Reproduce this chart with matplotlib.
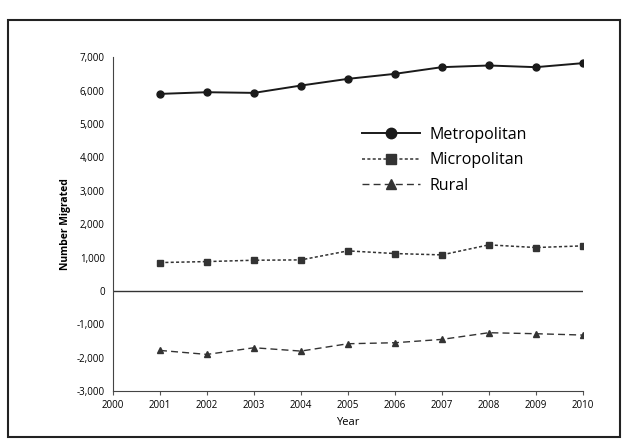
import matplotlib.pyplot as plt
from matplotlib.patches import Rectangle
from matplotlib.ticker import FuncFormatter

# data
years = [2001, 2002, 2003, 2004, 2005, 2006, 2007, 2008, 2009, 2010]
metropolitan = [5900, 5950, 5930, 6150, 6350, 6500, 6700, 6750, 6700, 6820]
micropolitan = [850, 880, 920, 930, 1200, 1120, 1080, 1380, 1300, 1350]
rural = [-1780, -1900, -1700, -1800, -1580, -1550, -1450, -1250, -1280, -1320]

plt.rcParams['font.family'] = ['Open Sans', 'DejaVu Sans']

fig = plt.figure(figsize=(6.28, 4.43), dpi=100)
ax = fig.add_axes([0.18, 0.117, 0.748, 0.754])

# outer frame of the chart
fig.patches.append(Rectangle((0.013, 0.014), 0.975, 0.94, transform=fig.transFigure,
                             fill=False, edgecolor='#222222', linewidth=1.5))

ax.plot(years, metropolitan, color='#1a1a1a', linestyle='-', linewidth=1.4,
        marker='o', markersize=5, label='Metropolitan')
ax.plot(years, micropolitan, color='#333333', linestyle=(0, (2, 1.5)), linewidth=1.1,
        marker='s', markersize=5, label='Micropolitan')
ax.plot(years, rural, color='#333333', linestyle=(0, (5, 3)), linewidth=1.0,
        marker='^', markersize=5, label='Rural')

ax.axhline(0, color='#333333', linewidth=1.0)

ax.set_xlim(2000, 2010)
ax.set_ylim(-3000, 7000)
ax.set_xticks(range(2000, 2011))
ax.set_yticks(range(-3000, 7001, 1000))
ax.yaxis.set_major_formatter(FuncFormatter(lambda v, p: f'{int(v):,}'))
ax.tick_params(labelsize=7, length=3, color='#555555')
ax.tick_params(axis='y', length=0, pad=6)

ax.spines['top'].set_visible(False)
ax.spines['right'].set_visible(False)
ax.spines['left'].set_color('#444444')
ax.spines['bottom'].set_color('#444444')

ax.set_xlabel('Year', fontsize=8)
ax.set_ylabel('Number Migrated', fontsize=7.5, fontweight='bold')

leg = ax.legend(loc='upper left', bbox_to_anchor=(0.5, 0.835), frameon=False,
                fontsize=11.5, handlelength=3.6, labelspacing=0.6, handletextpad=0.6,
                markerscale=1.5)

plt.savefig("out.png", dpi=100)
